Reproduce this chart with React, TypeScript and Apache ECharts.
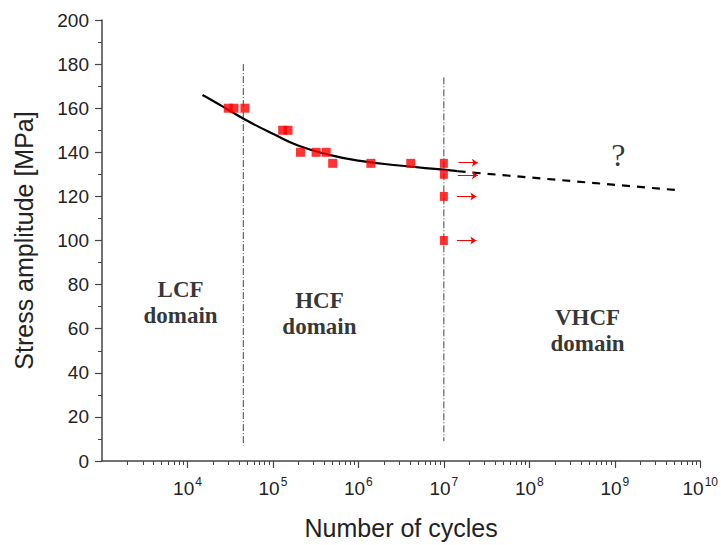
import React, { useEffect, useRef } from "react";
import * as echarts from "echarts";

// Fatigue data (cycles, stress amplitude MPa)
const failureN = [3.0e4, 3.5e4, 4.7e4, 1.3e5, 1.5e5, 2.1e5, 3.2e5, 4.2e5, 5.0e5, 1.4e6, 4.1e6];
const failureS = [160, 160, 160, 150, 150, 140, 140, 140, 135, 135, 135];
const runoutN = [1e7, 1e7, 1e7, 1e7];
const runoutS = [135, 130, 120, 100];
const arrowStartN = [1.48e7, 1.45e7, 1.42e7, 1.42e7];
const arrowEndN = [2.5e7, 2.5e7, 2.4e7, 2.4e7];
const arrowS = [135.3, 129.6, 120, 100];

// Fitted S-N curve (solid) and extrapolation (dashed)
const fitN = [1.5e4, 2e4, 3e4, 5e4, 1e5, 2e5, 5e5, 1e6, 3e6, 1e7, 1.45e7];
const fitS = [166, 163.3, 159.3, 154.3, 148.4, 143, 138.5, 136.2, 134, 132.1, 131.5];
const extN = [1.45e7, 5.5e9];
const extS = [131.4, 122.8];

// Domain boundaries (dash-dot)
const boundaryN = [4.5e4, 1e7];
const boundaryTop = [180, 174];
const boundaryBottom = [7, 9];

// Annotations
const noteText = ["LCF\ndomain", "HCF\ndomain", "VHCF\ndomain", "?"];
const noteN = [8.3e3, 3.5e5, 4.8e8, 1.1e9];
const noteS = [72, 67, 59, 139];

const xMajor = [1e3, 1e4, 1e5, 1e6, 1e7, 1e8, 1e9, 1e10];
const xMinor: number[] = [];
for (let d = 0; d < xMajor.length - 1; d++) {
  for (let k = 2; k <= 9; k++) xMinor.push(k * xMajor[d]);
}

export default function App() {
  const ref = useRef<HTMLDivElement>(null);
  useEffect(() => {
    if (!ref.current) return;
    document.body.style.margin = "0";
    const chart = echarts.init(ref.current, null, { renderer: "svg" });
    const axisColor = "#444";
    const labelFont = "'Liberation Sans', Arial, sans-serif";
    const serif = "'Liberation Serif', 'Times New Roman', serif";
    chart.setOption({
      animation: false,
      backgroundColor: "#fff",
      grid: { left: 102, right: 19, top: 20, bottom: 84, containLabel: false },
      xAxis: [
        {
          type: "log",
          logBase: 10,
          min: 1e3,
          max: 1e10,
          name: "Number of cycles",
          nameLocation: "middle",
          nameGap: 54,
          nameTextStyle: { fontFamily: labelFont, fontSize: 25, color: "#222" },
          axisLine: { show: true, lineStyle: { color: axisColor, width: 1.5 } },
          axisTick: { show: true, inside: false, length: 7, lineStyle: { color: axisColor, width: 1.2 }, customValues: xMajor.slice(1) },
          splitLine: { show: false },
          axisLabel: {
            margin: 15,
            customValues: xMajor.slice(1),
            formatter: (v: number) => {
              const e = Math.round(Math.log10(v));
              return `{b|10}{s|${e}}`;
            },
            rich: {
              b: { fontFamily: labelFont, fontSize: 19, color: "#222", lineHeight: 22, verticalAlign: "bottom" },
              s: { fontFamily: labelFont, fontSize: 12, color: "#222", lineHeight: 22, verticalAlign: "top", padding: [0, 0, 0, 1] },
            },
          },
        },
        {
          type: "log",
          logBase: 10,
          min: 1e3,
          max: 1e10,
          position: "bottom",
          axisLine: { show: false },
          axisTick: { show: true, inside: false, length: 4, lineStyle: { color: axisColor, width: 1 }, customValues: xMinor },
          axisLabel: { show: false },
          splitLine: { show: false },
        },
      ],
      yAxis: {
        type: "value",
        min: 0,
        max: 200,
        interval: 20,
        name: "Stress amplitude [MPa]",
        nameLocation: "middle",
        nameGap: 66,
        nameTextStyle: { fontFamily: labelFont, fontSize: 25, color: "#222" },
        axisLine: { show: true, lineStyle: { color: axisColor, width: 1.5 } },
        axisTick: { show: true, inside: false, length: 7, lineStyle: { color: axisColor, width: 1.2 } },
        minorTick: { show: true, splitNumber: 2, length: 4, lineStyle: { color: axisColor, width: 1 } },
        splitLine: { show: false },
        axisLabel: { fontFamily: labelFont, fontSize: 19, color: "#222", margin: 13 },
      },
      series: [
        ...boundaryN.map((n, i) => ({
          type: "line",
          data: [
            [n, boundaryTop[i]],
            [n, boundaryBottom[i]],
          ],
          symbol: "none",
          lineStyle: { color: "#444", width: 1, type: [7, 2, 1, 2] },
          silent: true,
          z: 1,
        })),
        {
          type: "line",
          data: fitN.map((n, i) => [n, fitS[i]]),
          smooth: true,
          symbol: "none",
          lineStyle: { color: "#000", width: 2.2 },
          z: 3,
        },
        {
          type: "line",
          data: extN.map((n, i) => [n, extS[i]]),
          symbol: "none",
          lineStyle: { color: "#000", width: 2.2, type: [8, 7] },
          z: 3,
        },
        {
          type: "scatter",
          data: failureN.map((n, i) => [n, failureS[i]]),
          symbol: "rect",
          symbolSize: [9, 9],
          itemStyle: { color: "#ff0000" },
          z: 4,
        },
        {
          type: "scatter",
          data: runoutN.map((n, i) => [n, runoutS[i]]),
          symbol: "rect",
          symbolSize: [8, 9],
          itemStyle: { color: "#ff0000" },
          z: 4,
        },
        {
          type: "lines",
          coordinateSystem: "cartesian2d",
          data: arrowS.map((s, i) => ({
            coords: [
              [arrowStartN[i], s],
              [arrowEndN[i], s],
            ],
          })),
          symbol: ["none", "arrow"],
          symbolSize: 6,
          lineStyle: { color: "#ff0000", width: 1.2, opacity: 1 },
          z: 4,
        },
        {
          type: "scatter",
          symbolSize: 0,
          silent: true,
          data: noteText.map((t, i) => ({
            value: [noteN[i], noteS[i]],
            label: {
              show: true,
              position: "inside",
              formatter: t,
              fontFamily: serif,
              fontWeight: t === "?" ? "normal" : "bold",
              fontSize: t === "?" ? 32 : 23,
              lineHeight: 26,
              color: "#000",
              align: "center",
            },
          })),
          z: 5,
        },
      ],
    });
    return () => chart.dispose();
  }, []);
  return <div ref={ref} style={{ width: 721, height: 545 }} />;
}
